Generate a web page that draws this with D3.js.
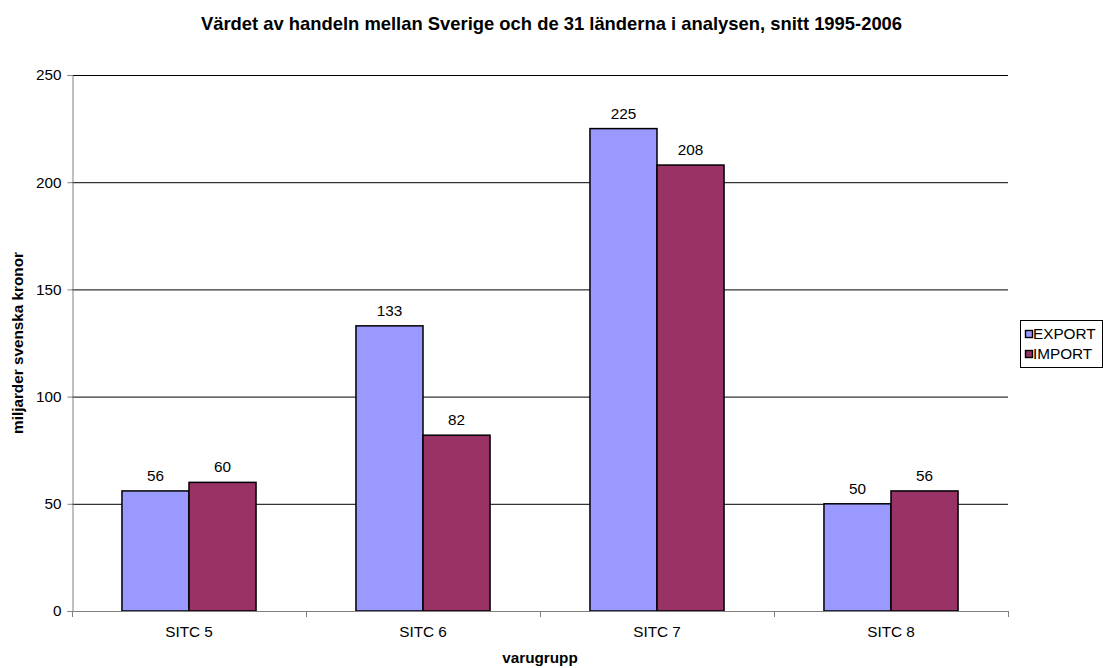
<!DOCTYPE html>
<html>
<head>
<meta charset="utf-8">
<script src="https://cdn.jsdelivr.net/npm/d3@7"></script>
<style>
  html, body { margin: 0; padding: 0; background: #fff; }
  svg { display: block; font-family: "Liberation Sans", Arial, sans-serif; }
</style>
</head>
<body>
<script>
// Trade values (billion SEK), average 1995-2006
const categories = ["SITC 5", "SITC 6", "SITC 7", "SITC 8"];
const seriesNames = ["EXPORT", "IMPORT"];
const exportValues = [56, 133, 225, 50];
const importValues = [60, 82, 208, 56];
const yTicks = [0, 50, 100, 150, 200, 250];
const colors = ["#9999FF", "#993366"];

const W = 1103, H = 668;
const plot = { left: 72, right: 1008, top: 75, bottom: 611 };
const FONT = "Liberation Sans, Arial, sans-serif";
const LABEL_SIZE = 15.3;

const svg = d3.select("body").append("svg").attr("width", W).attr("height", H);

const pad = 0.427;
const x = d3.scaleBand().domain(categories).range([plot.left, plot.right])
  .paddingInner(pad).paddingOuter(pad / 2);
const xs = d3.scaleBand().domain(seriesNames).range([0, x.bandwidth()]);
const y = d3.scaleLinear().domain([0, 250]).range([plot.bottom, plot.top]);

// Gridlines
svg.append("g").selectAll("line").data(yTicks.filter(d => d > 0)).join("line")
  .attr("x1", plot.left).attr("x2", plot.right)
  .attr("y1", d => y(d) + 0.5).attr("y2", d => y(d) + 0.5)
  .attr("stroke", "#000").attr("stroke-width", 1);

// Bars
const rows = categories.map((c, i) => ({ cat: c, vals: [exportValues[i], importValues[i]] }));
const groups = svg.append("g").selectAll("g").data(rows).join("g")
  .attr("transform", d => `translate(${x(d.cat)},0)`);

groups.selectAll("rect").data(d => d.vals.map((v, j) => ({ v, s: seriesNames[j], j }))).join("rect")
  .attr("x", d => xs(d.s))
  .attr("width", xs.bandwidth())
  .attr("y", d => y(d.v))
  .attr("height", d => y(0) - y(d.v))
  .attr("fill", d => colors[d.j])
  .attr("stroke", "#000").attr("stroke-width", 1.5);

groups.selectAll("text").data(d => d.vals.map((v, j) => ({ v, s: seriesNames[j] }))).join("text")
  .attr("x", d => xs(d.s) + xs.bandwidth() / 2)
  .attr("y", d => y(d.v) - 10)
  .attr("text-anchor", "middle")
  .attr("font-size", LABEL_SIZE).attr("fill", "#000")
  .text(d => d.v);

// Y axis
const yAxis = svg.append("g").attr("transform", `translate(${plot.left + 0.5},0)`)
  .call(d3.axisLeft(y).tickValues(yTicks).tickSize(5).tickPadding(6));
yAxis.select(".domain").attr("stroke", "#808080");
yAxis.selectAll(".tick line").attr("stroke", "#808080");
yAxis.selectAll(".tick text").attr("font-size", LABEL_SIZE).attr("font-family", FONT).attr("fill", "#000");

// X axis
const xAxis = svg.append("g").attr("transform", `translate(0,${plot.bottom + 0.5})`)
  .call(d3.axisBottom(x).tickSize(0).tickPadding(15));
xAxis.select(".domain").attr("stroke", "#808080").attr("d", `M${plot.left},0H${plot.right}`);
xAxis.selectAll(".tick text").attr("font-size", LABEL_SIZE).attr("font-family", FONT).attr("fill", "#000");
// Category separator ticks
const sepPositions = d3.range(categories.length + 1).map(i => plot.left + i * x.step());
svg.append("g").selectAll("line").data(sepPositions).join("line")
  .attr("x1", d => Math.round(d) + 0.5).attr("x2", d => Math.round(d) + 0.5)
  .attr("y1", plot.bottom).attr("y2", plot.bottom + 6)
  .attr("stroke", "#808080");

// Titles
svg.append("text").attr("x", W / 2).attr("y", 30).attr("text-anchor", "middle")
  .attr("font-size", 18.4).attr("font-weight", "bold")
  .text("Värdet av handeln mellan Sverige och de 31 länderna i analysen, snitt 1995-2006");

svg.append("text").attr("x", (plot.left + plot.right) / 2).attr("y", 663).attr("text-anchor", "middle")
  .attr("font-size", LABEL_SIZE).attr("font-weight", "bold").text("varugrupp");

svg.append("text").attr("transform", `translate(23,${(plot.top + plot.bottom) / 2}) rotate(-90)`)
  .attr("text-anchor", "middle").attr("font-size", LABEL_SIZE).attr("font-weight", "bold")
  .text("miljarder svenska kronor");

// Legend
const lg = svg.append("g").attr("transform", "translate(1020,320)");
lg.append("rect").attr("x", 0.5).attr("y", 0.5).attr("width", 82).attr("height", 47)
  .attr("fill", "#fff").attr("stroke", "#000");
seriesNames.forEach((s, i) => {
  const yy = 10 + i * 20;
  lg.append("rect").attr("x", 5.5).attr("y", yy + 0.5).attr("width", 7).attr("height", 7)
    .attr("fill", colors[i]).attr("stroke", "#000").attr("stroke-width", 1.4);
  lg.append("text").attr("x", 13).attr("y", yy + 8.5).attr("font-size", LABEL_SIZE).text(s);
});
</script>
</body>
</html>
